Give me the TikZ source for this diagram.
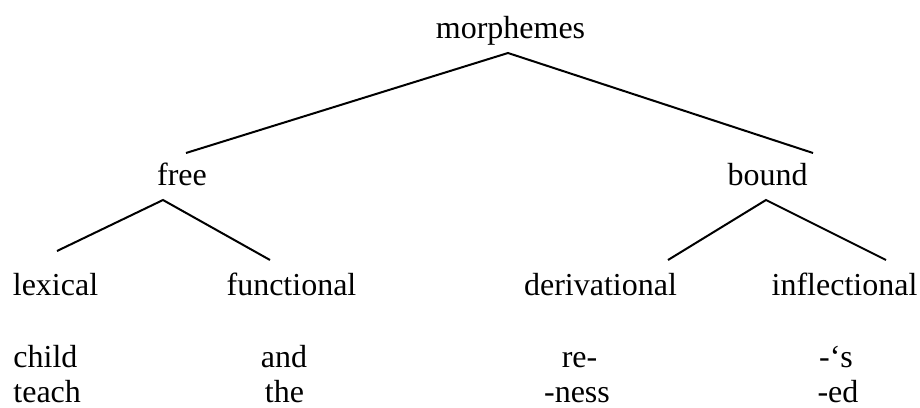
\documentclass[tikz,border=0pt]{standalone}
\usepackage{fontspec}
\setmainfont{Liberation Serif}
\usepackage{tikz}

\begin{document}
\begin{tikzpicture}[
    x=0.5pt, y=-0.5pt,
    every node/.style={font=\fontsize{16}{19}\selectfont, inner sep=0pt, anchor=base},
    branch/.style={line width=1pt}
]
    \useasboundingbox (0,0) rectangle (920,407);

    % tree
    \node (morph) at (510.5,38) {morphemes};
    \node (free) at (182,185) {free};
    \node (bound) at (767.5,185) {bound};
    \node (lex) at (55.5,295) {lexical};
    \node (func) at (291.5,295) {functional};
    \node (deriv) at (600.5,295) {derivational};
    \node (infl) at (844.5,295) {inflectional};

    % examples
    \node[anchor=base west] (child) at (13,367) {child};
    \node[anchor=base west] (teach) at (13,402) {teach};
    \node (and) at (284,367) {and};
    \node (the) at (284.5,402) {the};
    \node (re) at (579.5,367) {re-};
    \node (ness) at (577,402) {-ness};
    \node (poss) at (836,367) {-‘s};
    \node (ed) at (838,402) {-ed};

    \draw[branch] ([shift={(4,-32)}]free.base) -- ([shift={(-2.5,15)}]morph.base) -- ([shift={(45.5,-32)}]bound.base);
    \draw[branch] ([shift={(1.5,-44)}]lex.base) -- ([shift={(-19,15)}]free.base) -- ([shift={(-21.5,-35)}]func.base);
    \draw[branch] ([shift={(67.5,-35)}]deriv.base) -- ([shift={(-1.5,15)}]bound.base) -- ([shift={(41.5,-35)}]infl.base);
\end{tikzpicture}
\end{document}
